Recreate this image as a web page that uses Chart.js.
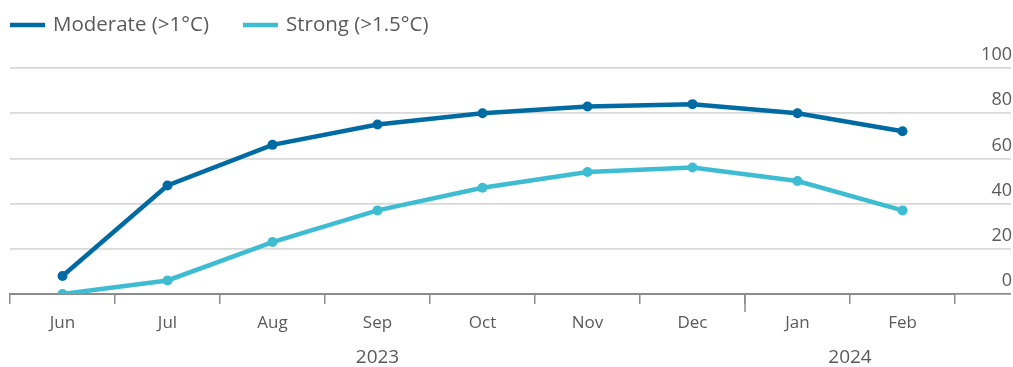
<!DOCTYPE html>
<html>
<head>
<meta charset="utf-8">
<script src="https://cdn.jsdelivr.net/npm/chart.js@4/dist/chart.umd.min.js"></script>
<style>
  html, body { margin: 0; padding: 0; background: #ffffff; }
  #wrap { width: 1013px; height: 367px; position: relative; }
</style>
</head>
<body>
<div id="wrap"><canvas id="chart"></canvas></div>
<script>
// Months on the x axis and the calendar year each run belongs to
const months = ['Jun', 'Jul', 'Aug', 'Sep', 'Oct', 'Nov', 'Dec', 'Jan', 'Feb'];
const yearLabels = ['2023', '2024'];
const yearFirstMonth = [0, 7];   // index into months where each year begins

// Probability (%) of an El Niño event of each strength
const moderate = [8, 48, 66, 75, 80, 83, 84, 80, 72];
const strong   = [0, 6, 23, 37, 47, 54, 56, 50, 37];

const yTicks = [0, 20, 40, 60, 80, 100];

const seriesNames  = ['Moderate (>1°C)', 'Strong (>1.5°C)'];
const seriesColors = ['#006BA2', '#3EBCD2'];

const FONT = '"Open Sans", "Noto Sans", sans-serif';
const TEXT = '#5a5a5a';
const GRID = '#D9D9D9';
const AXIS = '#8C8C8C';

// Year label positions: centre of each year's run of months
const yearCentres = yearLabels.map((_, i) => {
  const first = yearFirstMonth[i];
  const last = (i + 1 < yearFirstMonth.length ? yearFirstMonth[i + 1] : months.length) - 1;
  return (first + last) / 2;
});

// Legend: short line swatch followed by the series name, laid out left to right
const lineLegend = {
  id: 'lineLegend',
  afterDraw(chart) {
    const ctx = chart.ctx;
    ctx.save();
    ctx.font = '20.5px ' + FONT;
    ctx.textBaseline = 'middle';
    ctx.textAlign = 'left';
    let x = 10;
    const y = 25;
    chart.data.datasets.forEach(ds => {
      ctx.strokeStyle = ds.borderColor;
      ctx.lineWidth = 4.5;
      ctx.beginPath();
      ctx.moveTo(x, y);
      ctx.lineTo(x + 35, y);
      ctx.stroke();
      ctx.fillStyle = TEXT;
      ctx.fillText(ds.label, x + 43, y);
      x += 43 + ctx.measureText(ds.label).width + 34;
    });
    ctx.restore();
  }
};

// Taller tick mark where one calendar year hands over to the next
const yearDivider = {
  id: 'yearDivider',
  afterDraw(chart) {
    const xs = chart.scales.x;
    const ctx = chart.ctx;
    ctx.save();
    ctx.strokeStyle = AXIS;
    ctx.lineWidth = 1.5;
    yearFirstMonth.slice(1).forEach(idx => {
      const px = xs.getPixelForValue(idx - 0.5);
      ctx.beginPath();
      ctx.moveTo(px, xs.top);
      ctx.lineTo(px, xs.top + 18);
      ctx.stroke();
    });
    ctx.restore();
  }
};

new Chart(document.getElementById('chart'), {
  type: 'line',
  data: {
    labels: months,
    datasets: [
      {
        label: seriesNames[0],
        data: moderate,
        borderColor: seriesColors[0],
        backgroundColor: seriesColors[0],
        pointBackgroundColor: seriesColors[0],
        borderWidth: 4.5,
        pointRadius: 5,
        pointBorderWidth: 0,
        tension: 0
      },
      {
        label: seriesNames[1],
        data: strong,
        borderColor: seriesColors[1],
        backgroundColor: seriesColors[1],
        pointBackgroundColor: seriesColors[1],
        borderWidth: 4.5,
        pointRadius: 5,
        pointBorderWidth: 0,
        tension: 0
      }
    ]
  },
  options: {
    responsive: true,
    maintainAspectRatio: false,
    animation: false,
    layout: { padding: { top: 68, left: 10, right: 1, bottom: 0 } },
    plugins: {
      legend: { display: false },
      tooltip: { enabled: false }
    },
    scales: {
      x: {
        type: 'category',
        offset: true,
        grid: {
          offset: true,
          drawOnChartArea: false,
          drawTicks: true,
          tickLength: 10,
          color: AXIS,
          lineWidth: 1.5
        },
        border: { display: true, color: AXIS, width: 2 },
        ticks: {
          color: TEXT,
          font: { family: FONT, size: 17 },
          padding: 9,
          maxRotation: 0,
          autoSkip: false
        },
        afterFit(scale) { scale.height = 40; }
      },
      year: {
        type: 'linear',
        position: 'bottom',
        min: -0.5,
        max: months.length - 0.5,
        grid: { display: false, drawTicks: false },
        border: { display: false },
        afterBuildTicks(scale) {
          scale.ticks = yearCentres.map(v => ({ value: v }));
        },
        ticks: {
          color: TEXT,
          font: { family: FONT, size: 19 },
          padding: 12,
          maxRotation: 0,
          autoSkip: false,
          callback: (value, index) => yearLabels[index]
        },
        afterFit(scale) { scale.height = 33; }
      },
      y: {
        position: 'right',
        min: 0,
        max: 100,
        afterBuildTicks(scale) {
          scale.ticks = yTicks.map(v => ({ value: v }));
        },
        grid: {
          drawTicks: true,
          tickLength: 56,
          lineWidth: 1.8,
          color: ctx => (ctx.tick && ctx.tick.value === 0 ? AXIS : GRID)
        },
        border: { display: false },
        ticks: {
          color: TEXT,
          font: { family: FONT, size: 18 },
          crossAlign: 'far',
          padding: 0,
          labelOffset: -13
        },
        afterFit(scale) { scale.width = 57; }
      }
    }
  },
  plugins: [lineLegend, yearDivider]
});
</script>
</body>
</html>
